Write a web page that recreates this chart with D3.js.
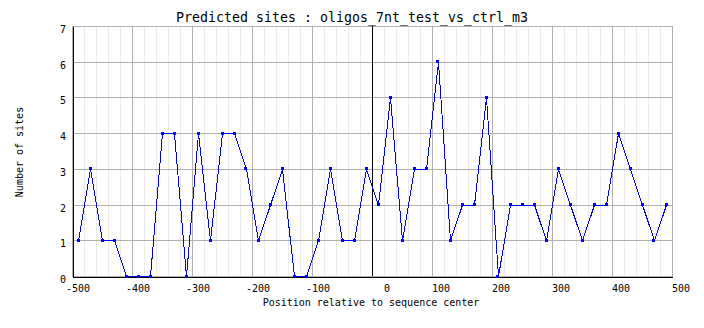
<!DOCTYPE html>
<html>
<head>
<meta charset="utf-8">
<script src="https://cdn.jsdelivr.net/npm/d3@7/dist/d3.min.js"></script>
<style>
  html, body { margin: 0; padding: 0; background: #ffffff; }
  svg { display: block; }
  text { font-family: "DejaVu Sans Mono", "Liberation Mono", monospace; fill: #000000; }
</style>
</head>
<body>
<svg id="chart" width="704" height="328"></svg>
<script>
// Predicted binding sites per 20-nt window around the sequence center
const positions = [
  -490, -470, -450, -430, -410, -390, -370, -350, -330, -310,
  -290, -270, -250, -230, -210, -190, -170, -150, -130, -110,
   -90,  -70,  -50,  -30,  -10,   10,   30,   50,   70,   90,
   110,  130,  150,  170,  190,  210,  230,  250,  270,  290,
   310,  330,  350,  370,  390,  410,  430,  450,  470,  490
];
const siteCounts = [
  1, 3, 1, 1, 0, 0, 0, 4, 4, 0,
  4, 1, 4, 4, 3, 1, 2, 3, 0, 0,
  1, 3, 1, 1, 3, 2, 5, 1, 3, 3,
  6, 1, 2, 2, 5, 0, 2, 2, 2, 1,
  3, 2, 1, 2, 2, 4, 3, 2, 1, 2
];
const xTickValues = [-500, -400, -300, -200, -100, 0, 100, 200, 300, 400, 500];
const xTickLabels = ["-500", "-400", "-300", "-200", "-100", "0", "100", "200", "300", "400", "500"];
const xMinorTicks = [
  -480, -460, -440, -420, -380, -360, -340, -320, -280, -260, -240, -220,
  -180, -160, -140, -120, -80, -60, -40, -20, 20, 40, 60, 80,
  120, 140, 160, 180, 220, 240, 260, 280, 320, 340, 360, 380,
  420, 440, 460, 480
];
const yTickValues = [0, 1, 2, 3, 4, 5, 6, 7];
const yTickLabels = ["0", "1", "2", "3", "4", "5", "6", "7"];
const chartTitle = "Predicted sites : oligos_7nt_test_vs_ctrl_m3";
const xTitle = "Position relative to sequence center";
const yTitle = "Number of sites";

const W = 704, H = 328;
const plot = { left: 72, right: 672, top: 26, bottom: 276 };

const svg = d3.select("#chart");

const x = d3.scaleLinear().domain([-500, 500]).range([plot.left + 0.5, plot.right + 0.5]);
const y = d3.scaleLinear().domain([0, 7]).range([plot.bottom + 0.5, plot.top + 0.5]);

const data = positions.map((p, i) => ({ pos: p, n: siteCounts[i] }));

// minor vertical grid
svg.append("g")
  .selectAll("line")
  .data(xMinorTicks)
  .join("line")
  .attr("x1", d => x(d)).attr("x2", d => x(d))
  .attr("y1", plot.top).attr("y2", plot.bottom)
  .attr("stroke", "#ebebeb")
  .attr("shape-rendering", "crispEdges");

// major grid
const grid = svg.append("g").attr("stroke", "#b0b0b0").attr("shape-rendering", "crispEdges");
grid.selectAll("line.v")
  .data(xTickValues)
  .join("line").attr("class", "v")
  .attr("x1", d => x(d)).attr("x2", d => x(d))
  .attr("y1", plot.top).attr("y2", plot.bottom);
grid.selectAll("line.h")
  .data(yTickValues)
  .join("line").attr("class", "h")
  .attr("x1", plot.left).attr("x2", plot.right + 1)
  .attr("y1", d => y(d)).attr("y2", d => y(d));

// axes
const xAxis = d3.axisBottom(x)
  .tickValues(xTickValues)
  .tickFormat((d, i) => xTickLabels[i])
  .tickSize(0)
  .tickSizeOuter(0);
const gx = svg.append("g")
  .attr("transform", `translate(0,${y(0)})`)
  .call(xAxis);
gx.select(".domain").attr("stroke", "#000").attr("shape-rendering", "crispEdges");
gx.selectAll("text")
  .attr("text-anchor", "end")
  .attr("dx", 17)
  .attr("y", 15.5)
  .attr("dy", 0)
  .attr("font-size", 10)
  .attr("font-family", "DejaVu Sans Mono");

const yAxis = d3.axisLeft(y)
  .tickValues(yTickValues)
  .tickFormat((d, i) => yTickLabels[i])
  .tickSize(0)
  .tickSizeOuter(0);
const gy = svg.append("g")
  .attr("transform", `translate(${x(-500)},0)`)
  .call(yAxis);
gy.select(".domain").attr("stroke", "#000").attr("shape-rendering", "crispEdges");
gy.selectAll("text")
  .attr("text-anchor", "end")
  .attr("x", -6.5)
  .attr("dy", 6)
  .attr("font-size", 10)
  .attr("font-family", "DejaVu Sans Mono");

// sequence center marker
svg.append("line")
  .attr("x1", x(0)).attr("x2", x(0))
  .attr("y1", plot.top).attr("y2", plot.bottom)
  .attr("stroke", "#000")
  .attr("shape-rendering", "crispEdges");

// series line
svg.append("path")
  .datum(data)
  .attr("fill", "none")
  .attr("stroke", "#0000ff")
  .attr("stroke-width", 1)
  .attr("shape-rendering", "crispEdges")
  .attr("d", d3.line().x(d => x(d.pos)).y(d => y(d.n)));

// point markers
svg.append("g")
  .selectAll("rect")
  .data(data)
  .join("rect")
  .attr("x", d => Math.round(x(d.pos)) - 2)
  .attr("y", d => Math.round(y(d.n)) - 2)
  .attr("width", 3)
  .attr("height", 3)
  .attr("fill", "#0000ff")
  .attr("shape-rendering", "crispEdges");

// titles
svg.append("text")
  .attr("x", W / 2)
  .attr("y", 21.5)
  .attr("text-anchor", "middle")
  .attr("font-size", 13.3)
  .text(chartTitle);

svg.append("text")
  .attr("x", (plot.left + plot.right) / 2 - 1)
  .attr("y", 306)
  .attr("text-anchor", "middle")
  .attr("font-size", 10)
  .text(xTitle);

svg.append("text")
  .attr("transform", `translate(23,${(plot.top + plot.bottom) / 2 + 1}) rotate(-90)`)
  .attr("text-anchor", "middle")
  .attr("font-size", 10)
  .text(yTitle);
</script>
</body>
</html>
